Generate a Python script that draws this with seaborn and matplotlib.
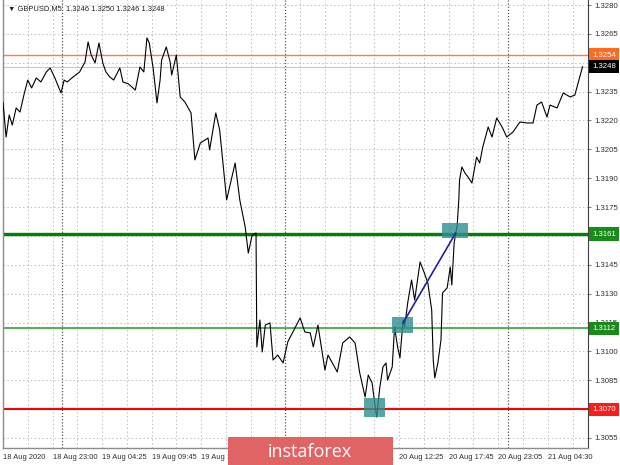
import matplotlib
matplotlib.use("Agg")
import matplotlib.pyplot as plt
import matplotlib.transforms as mtransforms
from matplotlib.patches import Rectangle
import numpy as np
import pandas as pd
import seaborn as sns

# ---------------- data ----------------
bar_index = [0, 4, 8, 12, 17, 22, 27, 32, 37, 43, 49, 56, 61, 67, 75, 79, 83, 89, 99,
             106, 110, 114, 119, 124, 129, 133, 138, 143, 151, 155, 162, 171, 177, 182,
             186, 189, 194, 199, 203, 205, 211, 216, 218, 224, 229, 235, 243, 248, 255,
             265, 267, 275, 280, 289, 300, 306, 313, 317, 322, 327, 328, 332, 335, 339,
             345, 349, 355, 362, 368, 384, 390, 397, 401, 407, 416, 420, 432, 439, 448,
             455, 461, 468, 472, 477, 481, 483, 487, 491, 495, 497, 503, 506, 510, 513,
             517, 519, 523, 528, 532, 539, 544, 549, 554, 556, 558, 562, 566, 568, 574,
             578, 580, 583, 587, 589, 590, 593, 597, 601, 606, 612, 616, 620, 627, 632,
             638, 645, 651, 659, 668, 677, 685, 690, 696, 703, 707, 716, 724, 733, 739,
             745, 749]
close_price = [1.32296, 1.32114, 1.32228, 1.32176, 1.32265, 1.32244, 1.32332, 1.32410,
               1.32369, 1.32421, 1.32400, 1.32452, 1.32473, 1.32421, 1.32343, 1.32410,
               1.32400, 1.32421, 1.32452, 1.32504, 1.32608, 1.32540, 1.32499, 1.32603,
               1.32499, 1.32452, 1.32426, 1.32410, 1.32473, 1.32400, 1.32390, 1.32358,
               1.32478, 1.32452, 1.32629, 1.32603, 1.32473, 1.32291, 1.32410, 1.32514,
               1.32582, 1.32504, 1.32436, 1.32540, 1.32322, 1.32296, 1.32239, 1.31995,
               1.32083, 1.32109, 1.32047, 1.32239, 1.32150, 1.31787, 1.31979, 1.31787,
               1.31646, 1.31511, 1.31605, 1.31615, 1.31023, 1.31163, 1.30997, 1.31137,
               1.31148, 1.30955, 1.30981, 1.30940, 1.31049, 1.31174, 1.31101, 1.31096,
               1.31023, 1.31137, 1.30903, 1.30981, 1.30893, 1.31044, 1.31075, 1.31044,
               1.30888, 1.30763, 1.30877, 1.30836, 1.30711, 1.30659, 1.30815, 1.30919,
               1.30940, 1.30851, 1.30919, 1.31127, 1.31023, 1.30966, 1.31163, 1.31127,
               1.31252, 1.31371, 1.31267, 1.31465, 1.31413, 1.31356, 1.31215, 1.30955,
               1.30862, 1.30940, 1.31059, 1.31304, 1.31330, 1.31439, 1.31345, 1.31563,
               1.31657, 1.31787, 1.31891, 1.31958, 1.31927, 1.31906, 1.31875, 1.32010,
               1.31979, 1.32062, 1.32166, 1.32114, 1.32213, 1.32166, 1.32114, 1.32140,
               1.32192, 1.32187, 1.32187, 1.32280, 1.32296, 1.32218, 1.32280, 1.32265,
               1.32343, 1.32322, 1.32332, 1.32421, 1.32480]

title_text = "\u25BC GBPUSD,M5  1.3246 1.3250 1.3246 1.3248"

# horizontal levels: value, colour, linewidth, label colour
level_values = [1.3254, 1.3248, 1.3161, 1.3112, 1.3070]
level_colors = ["#ff7f3f", "#c8c8c8", "#008000", "#1e9e1e", "#ff0000"]
level_widths = [1.0, 0.8, 2.4, 1.1, 1.5]
label_colors = ["#ff6a20", "#000000", "#1a8a1a", "#1a8a1a", "#ff1a1a"]

# teal boxes: (bar start, bar end, price low, price high)
box_bar_start = [466, 503, 567]
box_bar_end = [494, 530, 601]
box_price_low = [1.30660, 1.31097, 1.31589]
box_price_high = [1.30760, 1.31179, 1.31667]

# blue connecting line
trend_bars = [517, 585]
trend_prices = [1.31148, 1.31615]

x_tick_pos = [0, 64, 128, 192, 256, 320, 384, 448, 512, 576, 640, 704]
# labels at 320, 384 and 448 sit fully under the logo in the reference
x_tick_labels = ["18 Aug 2020", "18 Aug 23:00", "19 Aug 04:25", "19 Aug 09:45",
                 "19 Aug 15:05", "", "", "",
                 "20 Aug 12:25", "20 Aug 17:45", "20 Aug 23:05", "21 Aug 04:30"]
day_separators = [76, 364, 652]
y_ticks = [1.3055, 1.3070, 1.3085, 1.3100, 1.3115, 1.3130, 1.3145, 1.3160,
           1.3175, 1.3190, 1.3205, 1.3220, 1.3235, 1.3250, 1.3265, 1.3280]
# tick labels hidden behind the price boxes in the reference
y_hidden = [1.3070, 1.3160, 1.3250]

# ---------------- plot ----------------
sns.set_style("white")
plt.rcParams["font.family"] = ["Liberation Sans", "DejaVu Sans"]

fig = plt.figure(figsize=(6.2, 4.65), dpi=100)
ax = fig.add_axes([3 / 620, 17 / 465, 585 / 620, 448 / 465])
ax.set_xlim(0, 756)
ax.set_ylim(1.30498, 1.32826)

# grid
for xv in range(32, 756, 32):
    ax.axvline(xv, color="#bdbdbd", lw=0.7, ls=(0, (1.5, 2.5)), zorder=0)
for xv in day_separators:
    ax.axvline(xv, color="#555555", lw=0.9, ls=(0, (1, 1.5)), zorder=0.5)
for yv in y_ticks:
    ax.axhline(yv, color="#bdbdbd", lw=0.7, ls=(0, (1.5, 2.5)), zorder=0)

df = pd.DataFrame({"bar": bar_index, "price": close_price})
sns.lineplot(data=df, x="bar", y="price", ax=ax, color="black", lw=0.8,
             sort=False, estimator=None, zorder=3)

for v, c, w in zip(level_values, level_colors, level_widths):
    ax.axhline(v, color=c, lw=w, zorder=2)

for b0, b1, p0, p1 in zip(box_bar_start, box_bar_end, box_price_low, box_price_high):
    ax.add_patch(Rectangle((b0, p0), b1 - b0, p1 - p0, facecolor="#2f8f8f",
                           alpha=0.8, edgecolor="none", zorder=4))

ax.plot(trend_bars, trend_prices, color="#2020a0", lw=1.2, zorder=5)

# axes styling
ax.yaxis.tick_right()
ax.set_yticks(y_ticks)
ax.set_yticklabels(["" if v in y_hidden else f"{v:.4f}" for v in y_ticks],
                   fontsize=5.6, color="#303030")
ax.set_xticks(x_tick_pos)
ax.set_xticklabels(x_tick_labels, fontsize=5.4, color="#303030", ha="left")
ax.tick_params(axis="both", length=2.5, width=0.6, color="#606060", pad=2)
ax.set_xlabel("")
ax.set_ylabel("")
for side in ["left", "bottom"]:
    ax.spines[side].set_color("#8c8c8c")
    ax.spines[side].set_linewidth(1.0)
ax.spines["right"].set_color("#404040")
ax.spines["right"].set_linewidth(0.8)
ax.spines["top"].set_visible(False)

# price label boxes on the right axis
trans = mtransforms.blended_transform_factory(ax.transAxes, ax.transData)
for i, (v, c) in enumerate(zip(level_values, label_colors)):
    ax.text(1.0 + 4.5 / 585, v, f"{v:.4f}", transform=trans, fontsize=5.6,
            color="white", ha="left", va="center", clip_on=False, zorder=10 + i,
            bbox=dict(boxstyle="square,pad=0.4", facecolor=c, edgecolor="none"))

ax.text(0.009, 0.982, title_text, transform=ax.transAxes, fontsize=5.4,
        color="#202020", ha="left", va="center")

# instaforex logo
fig.patches.append(Rectangle((228 / 620, 0), 165 / 620, 28 / 465,
                             transform=fig.transFigure, facecolor="#e06464",
                             edgecolor="none", zorder=20))
fig.text(310 / 620, 13 / 465, "instaforex", fontsize=13, color="white",
         ha="center", va="center", zorder=21, family=["Open Sans", "DejaVu Sans"])

fig.savefig("out.png", dpi=100)
